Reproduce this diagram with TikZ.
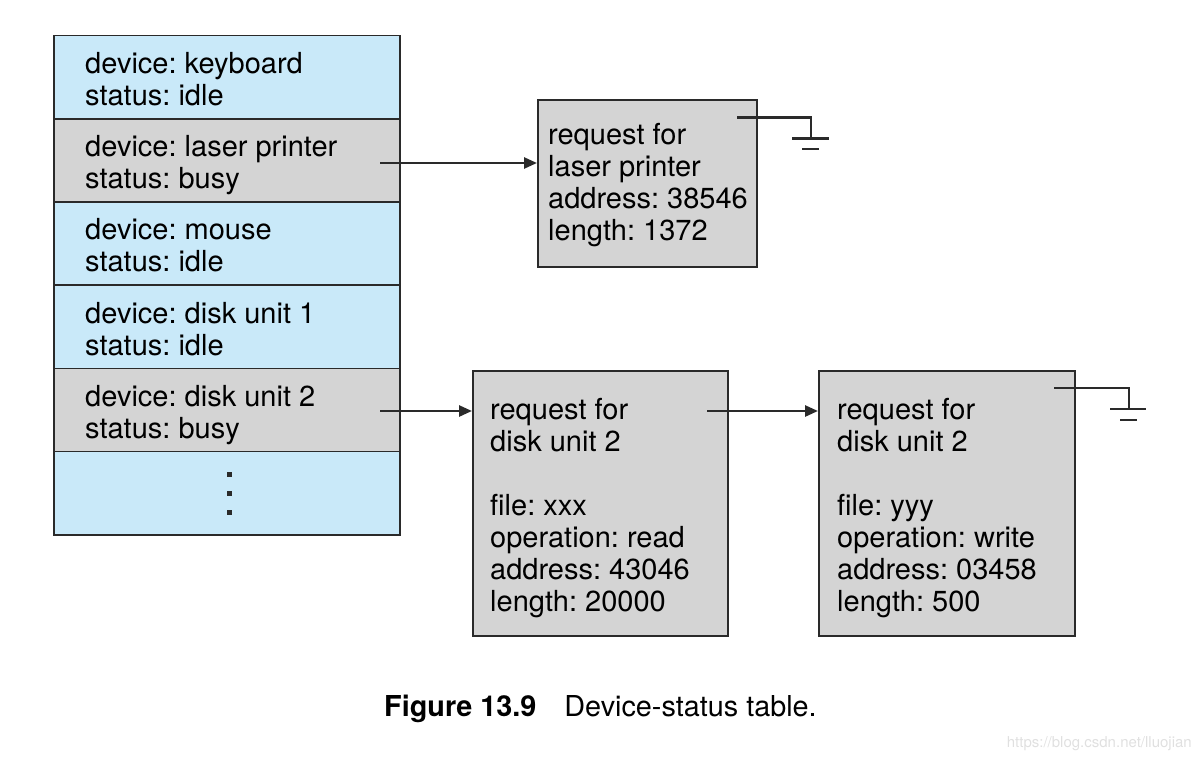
\documentclass[tikz,border=0pt]{standalone}
\usepackage{fontspec}
\setmainfont{TeX Gyre Heros}
\usetikzlibrary{arrows.meta}
\definecolor{rowblue}{HTML}{C9E9F9}
\definecolor{rowgray}{HTML}{D4D4D4}
\definecolor{edge}{HTML}{2A2A2A}
\frenchspacing
\begin{document}
\begin{tikzpicture}[x=1pt,y=-1pt,
  txt/.style={font=\fontsize{29}{32}\selectfont\frenchspacing,align=left,inner sep=0pt,anchor=north west},
  row/.style={draw=edge,line width=1.6pt,minimum width=346pt,minimum height=83.2pt,inner sep=0pt},
  blue row/.style={row,fill=rowblue},
  gray row/.style={row,fill=rowgray},
  reqbox/.style={draw=edge,line width=1.6pt,fill=rowgray,anchor=north west,inner sep=0pt},
  link/.style={line width=2.6pt,draw=edge,-{Triangle[length=13pt,width=11pt]}},
  gnd/.style={line width=2.6pt,draw=edge},
  dot/.style={fill=edge,minimum size=5pt,inner sep=0pt}
]
\useasboundingbox (0,0) rectangle (1200,758);

% device-status table
\node[blue row] (r1) at (227,77.2) {};
\node[gray row] (r2) at (227,160.4) {};
\node[blue row] (r3) at (227,243.6) {};
\node[blue row] (r4) at (227,326.8) {};
\node[gray row] (r5) at (227,410.0) {};
\node[blue row] (r6) at (227,493.2) {};
\node[txt] (t1) at (85,52.5) {device: keyboard\\status: idle};
\node[txt] (t2) at (85,135.5) {device: laser printer\\status: busy};
\node[txt] (t3) at (85,218.5) {device: mouse\\status: idle};
\node[txt] (t4) at (85,301.7) {device: disk unit 1\\status: idle};
\node[txt] (t5) at (85,384.9) {device: disk unit 2\\status: busy};
\node[dot] (d1) at (229,474) {};
\node[dot] (d2) at (229,493) {};
\node[dot] (d3) at (229,512) {};

% request boxes
\node[reqbox,minimum width=219pt,minimum height=167pt] (q1) at (537,99) {};
\node[reqbox,minimum width=255pt,minimum height=265pt] (q2) at (472,370) {};
\node[reqbox,minimum width=256pt,minimum height=265pt] (q3) at (818,370) {};
\node[txt] (qt1) at (548,123.5) {request for\\laser printer\\address: 38546\\length: 1372};
\node[txt] (qt2) at (490,398.5) {request for\\disk unit 2\\[32pt]file: xxx\\operation: read\\address: 43046\\length: 20000};
\node[txt] (qt3) at (837,398.5) {request for\\disk unit 2\\[32pt]file: yyy\\operation: write\\address: 03458\\length: 500};

% arrows
\coordinate (a1) at (380,163);
\coordinate (a2) at (380,411);
\coordinate (a3) at (707,411);
\draw[link] (a1) -- (a1 -| q1.west);
\draw[link] (a2) -- (a2 -| q2.west);
\draw[link] (a3) -- (a3 -| q3.west);

% ground symbols (null pointers)
\coordinate (g1s) at (737,117.5);
\coordinate (g1c) at (811,117.5);
\coordinate (g1b) at (811,138.5);
\coordinate (g1l) at (792,138.5);
\coordinate (g1r) at (829,138.5);
\coordinate (g1sl) at (802,149);
\coordinate (g1sr) at (819,149);
\draw[gnd] (g1s) -- (g1c) -- (g1b);
\draw[gnd] (g1l) -- (g1r);
\draw[gnd] (g1sl) -- (g1sr);

\coordinate (g2s) at (1054,388);
\coordinate (g2c) at (1129,388);
\coordinate (g2b) at (1129,409);
\coordinate (g2l) at (1110,409);
\coordinate (g2r) at (1146,409);
\coordinate (g2sl) at (1120,420);
\coordinate (g2sr) at (1137,420);
\draw[gnd] (g2s) -- (g2c) -- (g2b);
\draw[gnd] (g2l) -- (g2r);
\draw[gnd] (g2sl) -- (g2sr);

% caption
\node[font=\fontsize{28.8}{32}\selectfont,anchor=base west,inner sep=0pt] (cap) at (384,716) {\textbf{Figure 13.9}\hspace{28pt}Device-status table.};
\node[anchor=base east,inner sep=0pt,text=black!12,font=\fontsize{15}{17}\selectfont] (wm) at (1192,747) {https://blog.csdn.net/lluojian};
\end{tikzpicture}
\end{document}
